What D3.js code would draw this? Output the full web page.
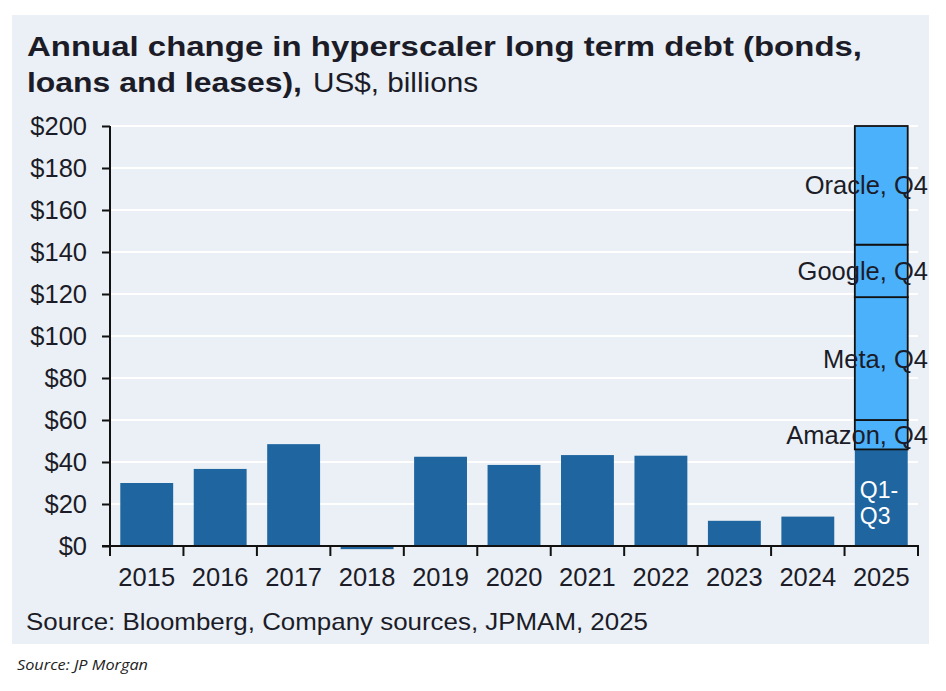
<!DOCTYPE html>
<html>
<head>
<meta charset="utf-8">
<script src="https://cdn.jsdelivr.net/npm/d3@7"></script>
<style>
  body { margin: 0; background: #fff; }
  svg { display: block; }
  text { font-family: "Liberation Sans", Arial, sans-serif; fill: #1c1c28; }
</style>
</head>
<body>
<svg id="chart" width="946" height="691"></svg>
<script>
// data
const years = ['2015', '2016', '2017', '2018', '2019', '2020', '2021', '2022', '2023', '2024', '2025']
const annualChange = [30, 36.7, 48.5, -1.5, 42.5, 38.6, 43.3, 43, 12, 14, 46]
const q4Names = ['Amazon, Q4', 'Meta, Q4', 'Google, Q4', 'Oracle, Q4']
const q4Values = [14, 58.5, 25, 56.5]
const yTicks = [0, 20, 40, 60, 80, 100, 120, 140, 160, 180, 200]
const q13Lines = ['Q1-', 'Q3']

const DARK = '#1f66a1'
const LIGHT = '#4bb1fb'
const FS = '25.5px'

const svg = d3.select('#chart')

svg.append('rect')
  .attr('x', 12).attr('y', 15)
  .attr('width', 917).attr('height', 629)
  .attr('fill', '#eaf0f5')

const x = d3.scaleBand()
  .domain(years)
  .range([110, 918])
  .paddingInner(0.28)
  .paddingOuter(0.14)

const y = d3.scaleLinear()
  .domain([0, 200])
  .range([546, 126])

// gridlines
svg.append('g').selectAll('line')
  .data(yTicks.filter(d => d > 0))
  .join('line')
  .attr('x1', 110).attr('x2', 918)
  .attr('y1', d => y(d)).attr('y2', d => y(d))
  .attr('stroke', '#fff').attr('stroke-width', 2)

// bars (2025 is the Q1-Q3 part)
svg.append('g').selectAll('rect')
  .data(years.map((k, i) => ({ k, v: annualChange[i] })))
  .join('rect')
  .attr('x', d => x(d.k))
  .attr('width', x.bandwidth())
  .attr('y', d => y(Math.max(0, d.v)))
  .attr('height', d => Math.abs(y(d.v) - y(0)))
  .attr('fill', DARK)

// Q4 stacked segments on 2025
let acc = annualChange[annualChange.length - 1]
const segs = q4Names.map((name, i) => {
  const s = { name, y0: acc, y1: acc + q4Values[i] }
  acc += q4Values[i]
  return s
})

svg.append('g').selectAll('rect')
  .data(segs)
  .join('rect')
  .attr('x', x('2025'))
  .attr('width', x.bandwidth())
  .attr('y', d => y(d.y1))
  .attr('height', d => y(d.y0) - y(d.y1))
  .attr('fill', LIGHT)
  .attr('stroke', '#111')
  .attr('stroke-width', 1.8)

svg.append('g').selectAll('text')
  .data(segs)
  .join('text')
  .attr('x', 928)
  .attr('y', d => y((d.y0 + d.y1) / 2))
  .attr('dy', '0.35em')
  .attr('text-anchor', 'end')
  .style('font-size', FS)
  .text(d => d.name)

svg.append('g').selectAll('text')
  .data(q13Lines)
  .join('text')
  .attr('x', x('2025') + 5)
  .attr('y', (d, i) => 498 + i * 26)
  .style('font-size', '23px')
  .style('fill', '#fff')
  .text(d => d)

// y axis
const yAxis = svg.append('g')
  .attr('transform', 'translate(110,0)')
  .call(d3.axisLeft(y).tickValues(yTicks).tickSize(8).tickSizeOuter(0).tickPadding(15).tickFormat(d => '$' + d))
yAxis.select('.domain').remove()
yAxis.selectAll('.tick line').attr('stroke', '#111').attr('stroke-width', 2)
yAxis.selectAll('.tick text').style('font-size', FS).style('font-family', null).attr('fill', null)

svg.append('line')
  .attr('x1', 110).attr('x2', 110)
  .attr('y1', y(200)).attr('y2', 556)
  .attr('stroke', '#111').attr('stroke-width', 2)

// x axis
svg.append('line')
  .attr('x1', 102).attr('x2', 919)
  .attr('y1', y(0)).attr('y2', y(0))
  .attr('stroke', '#111').attr('stroke-width', 2)

const gap = (x.step() - x.bandwidth()) / 2
const bounds = years.map(k => x(k) - gap).concat([x(years[years.length - 1]) + x.bandwidth() + gap])
svg.append('g').selectAll('line')
  .data(bounds)
  .join('line')
  .attr('x1', d => d).attr('x2', d => d)
  .attr('y1', y(0)).attr('y2', 556)
  .attr('stroke', '#111').attr('stroke-width', 2)

svg.append('g').selectAll('text')
  .data(years)
  .join('text')
  .attr('x', d => x(d) + x.bandwidth() / 2)
  .attr('y', 586)
  .attr('text-anchor', 'middle')
  .style('font-size', FS)
  .text(d => d)

// titles
svg.append('text')
  .attr('x', 27).attr('y', 56)
  .attr('textLength', 835).attr('lengthAdjust', 'spacingAndGlyphs')
  .style('font-size', '28px').style('font-weight', 'bold')
  .text('Annual change in hyperscaler long term debt (bonds,')
svg.append('text')
  .attr('x', 27).attr('y', 92)
  .attr('textLength', 275).attr('lengthAdjust', 'spacingAndGlyphs')
  .style('font-size', '28px').style('font-weight', 'bold')
  .text('loans and leases),')
svg.append('text')
  .attr('x', 313).attr('y', 92)
  .attr('textLength', 165).attr('lengthAdjust', 'spacingAndGlyphs')
  .style('font-size', '28px')
  .text('US$, billions')

svg.append('text')
  .attr('x', 26).attr('y', 630)
  .attr('textLength', 622).attr('lengthAdjust', 'spacingAndGlyphs')
  .style('font-size', '24px')
  .text('Source: Bloomberg, Company sources, JPMAM, 2025')

svg.append('text')
  .attr('x', 17).attr('y', 670)
  .attr('textLength', 131).attr('lengthAdjust', 'spacingAndGlyphs')
  .style('font-family', '"Open Sans", sans-serif')
  .style('font-style', 'italic')
  .style('font-size', '15px')
  .style('fill', '#222')
  .text('Source: JP Morgan')
</script>
</body>
</html>
